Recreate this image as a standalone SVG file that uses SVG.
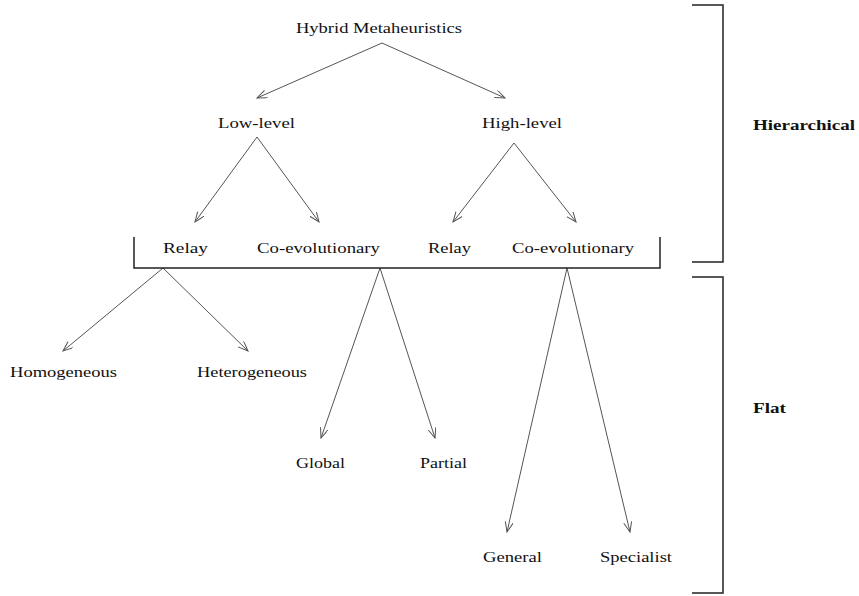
<svg xmlns="http://www.w3.org/2000/svg" width="859" height="596" viewBox="0 0 859 596">
<style>
text{font-family:"Liberation Serif","Times New Roman",serif;font-size:15px;fill:#111}
.b{font-weight:bold}
.c line{stroke:#555;stroke-width:1;marker-end:url(#ah)}
.br{fill:none;stroke:#222;stroke-width:1.5}
</style>
<defs>
<marker id="ah" markerUnits="userSpaceOnUse" markerWidth="12" markerHeight="10" refX="10" refY="4" orient="auto">
<path d="M0,0 L10,4 L0,8" fill="none" stroke="#555" stroke-width="1"/>
</marker>
</defs>
<rect width="859" height="596" fill="#fff"/>
<g id="connectors" class="c">
<line x1="382" y1="43" x2="257" y2="98"/>
<line x1="382" y1="43" x2="505" y2="98"/>
<line x1="257" y1="137" x2="195" y2="222"/>
<line x1="257" y1="137" x2="319" y2="222"/>
<line x1="514" y1="143" x2="453" y2="222"/>
<line x1="514" y1="143" x2="576" y2="222"/>
<line x1="163" y1="268" x2="63" y2="351"/>
<line x1="163" y1="268" x2="248" y2="351"/>
<line x1="380" y1="268" x2="321" y2="438"/>
<line x1="380" y1="268" x2="435" y2="438"/>
<line x1="567" y1="268" x2="507" y2="532"/>
<line x1="567" y1="268" x2="630" y2="532"/>
</g>
<g id="brackets">
<path class="br" d="M134,237 V268 H660 V237"/>
<path class="br" d="M692,5 H723 V262 H692"/>
<path class="br" d="M692,277 H723 V593 H692"/>
</g>
<g id="n-root"><text x="296" y="33" textLength="166" lengthAdjust="spacingAndGlyphs">Hybrid Metaheuristics</text></g>
<g id="n-low"><text x="218" y="128" textLength="77" lengthAdjust="spacingAndGlyphs">Low-level</text></g>
<g id="n-high"><text x="482" y="128" textLength="80" lengthAdjust="spacingAndGlyphs">High-level</text></g>
<g id="n-relay1"><text x="163" y="253" textLength="45" lengthAdjust="spacingAndGlyphs">Relay</text></g>
<g id="n-coevo1"><text x="257" y="253" textLength="123" lengthAdjust="spacingAndGlyphs">Co-evolutionary</text></g>
<g id="n-relay2"><text x="428" y="253" textLength="43" lengthAdjust="spacingAndGlyphs">Relay</text></g>
<g id="n-coevo2"><text x="512" y="253" textLength="122" lengthAdjust="spacingAndGlyphs">Co-evolutionary</text></g>
<g id="n-homo"><text x="10" y="377" textLength="107" lengthAdjust="spacingAndGlyphs">Homogeneous</text></g>
<g id="n-hetero"><text x="197" y="377" textLength="110" lengthAdjust="spacingAndGlyphs">Heterogeneous</text></g>
<g id="n-global"><text x="296" y="468" textLength="49" lengthAdjust="spacingAndGlyphs">Global</text></g>
<g id="n-partial"><text x="420" y="468" textLength="47" lengthAdjust="spacingAndGlyphs">Partial</text></g>
<g id="n-general"><text x="483" y="562" textLength="59" lengthAdjust="spacingAndGlyphs">General</text></g>
<g id="n-specialist"><text x="600" y="562" textLength="72" lengthAdjust="spacingAndGlyphs">Specialist</text></g>
<g id="n-hier"><text class="b" x="753" y="130" textLength="102" lengthAdjust="spacingAndGlyphs">Hierarchical</text></g>
<g id="n-flat"><text class="b" x="753" y="413" textLength="33" lengthAdjust="spacingAndGlyphs">Flat</text></g>
</svg>
